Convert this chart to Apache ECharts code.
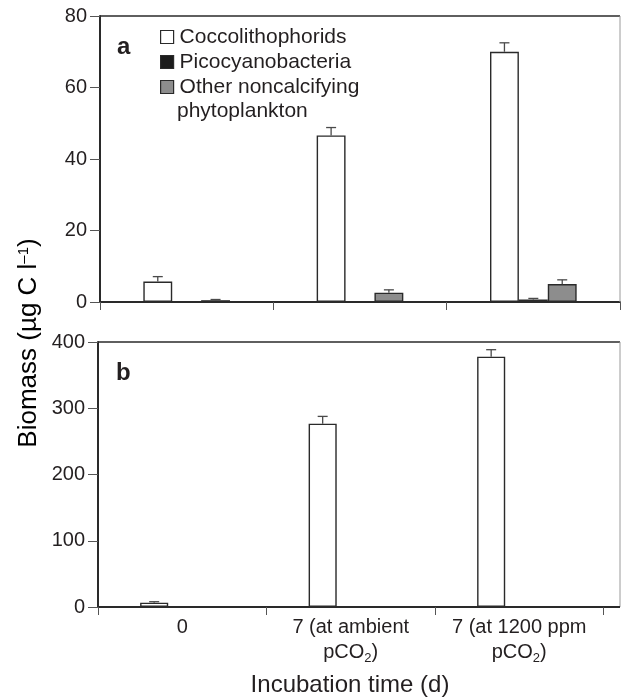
<!DOCTYPE html>
<html>
<head>
<meta charset="utf-8">
<script src="https://cdn.jsdelivr.net/npm/echarts@6/dist/echarts.min.js"></script>
<style>
html,body{margin:0;padding:0;background:#fff;}
#chart{width:621px;height:698px;}
</style>
</head>
<body>
<div id="chart"></div>
<script>
// ---- data ----
var categories = ['0', '7 (at ambient\npCO2)', '7 (at 1200 ppm\npCO2)'];
var seriesNames = ['Coccolithophorids', 'Picocyanobacteria', 'Other noncalcifying phytoplankton'];
var coccoA = [5.7, 46.6, 70.0];
var coccoAErr = [1.4, 2.2, 2.5];
var picoA = [0.1, 0.2, 0.7];
var picoAErr = [0, 0, 0.3];
var otherA = [0.5, 2.6, 5.0];
var otherAErr = [0.2, 0.8, 1.2];
var coccoB = [6.5, 276.7, 377.8];
var coccoBErr = [1.5, 11.0, 10.6];
var yTicksA = [0, 20, 40, 60, 80];
var yTicksB = [0, 100, 200, 300, 400];

// ---- layout ----
var FONT = 'Liberation Sans, Arial, Helvetica, sans-serif';
var TXT = '#231f20';
var AX = '#2a2a2a';
var GA = {left: 100, top: 16, width: 520, height: 286};
var GB = {left: 98, top: 342, width: 505.5, height: 265};
var FRAME_RIGHT = 620;
var CAT_GAP = 0.5;

var colors = ['#ffffff', '#1c1c1c', '#8d8d8d'];

function errData(vals, errs) {
  return vals.map(function (v, i) { return [i, v, errs[i]]; });
}
function errSeries(xi, yi, slot, vals, errs) {
  return {
    type: 'custom', xAxisIndex: xi, yAxisIndex: yi, silent: true, z: 5,
    data: errData(vals, errs),
    renderItem: function (params, api) {
      var e = api.value(2);
      if (!e) return null;
      var base = api.coord([api.value(0), api.value(1)]);
      var top = api.coord([api.value(0), api.value(1) + e]);
      var bw = api.size([1, 0])[0];
      var barW = bw * (1 - CAT_GAP) / 3;
      var cx = base[0] + (slot - 1) * barW;
      var st = {stroke: '#4a4a4a', lineWidth: 1.3};
      return {type: 'group', children: [
        {type: 'line', shape: {x1: cx, y1: base[1], x2: cx, y2: top[1]}, style: st},
        {type: 'line', shape: {x1: cx - 5, y1: top[1], x2: cx + 5, y2: top[1]}, style: st}
      ]};
    }
  };
}
function barSeries(name, xi, yi, data, idx) {
  return {
    name: name, type: 'bar', xAxisIndex: xi, yAxisIndex: yi, data: data,
    barGap: '0%', barCategoryGap: (CAT_GAP * 100) + '%',
    itemStyle: {color: colors[idx], borderColor: '#2a2a2a', borderWidth: 1.4},
    emphasis: {disabled: true}
  };
}
function xAxisCfg(gi, showLabels) {
  return {
    type: 'category', gridIndex: gi, data: categories,
    axisLine: {lineStyle: {color: AX, width: 2}},
    axisTick: {show: true, length: 8, lineStyle: {color: '#555', width: 1}, interval: 0},
    axisLabel: {
      show: showLabels, interval: 0, margin: 8, color: TXT, fontFamily: FONT, fontSize: 20, lineHeight: 25,
      formatter: function (v) {
        var parts = v.split('\n');
        if (parts.length === 1) return '{n|' + v + '}';
        return '{n|' + parts[0] + '}\n' + '{n|pCO}{s|2}{n|)}';
      },
      rich: {
        n: {fontSize: 20, fontFamily: FONT, color: TXT, lineHeight: 25},
        s: {fontSize: 13, fontFamily: FONT, color: TXT, lineHeight: 20, verticalAlign: 'bottom'}
      }
    },
    splitLine: {show: false}
  };
}
function yAxisCfg(gi, max, interval) {
  return {
    type: 'value', gridIndex: gi, min: 0, max: max, interval: interval,
    axisLine: {show: true, lineStyle: {color: AX, width: 2}},
    axisTick: {show: true, length: 10, lineStyle: {color: '#555', width: 1}},
    axisLabel: {margin: 13, color: TXT, fontFamily: FONT, fontSize: 20},
    splitLine: {show: false}
  };
}

var chart = echarts.init(document.getElementById('chart'), null, {renderer: 'canvas'});
var option = {
  animation: false,
  backgroundColor: '#fff',
  grid: [
    {left: GA.left, top: GA.top, width: GA.width, height: GA.height},
    {left: GB.left, top: GB.top, width: GB.width, height: GB.height}
  ],
  xAxis: [xAxisCfg(0, false), xAxisCfg(1, true)],
  yAxis: [yAxisCfg(0, 80, 20), yAxisCfg(1, 400, 100)],
  legend: {
    orient: 'vertical', left: 155, top: 21, itemWidth: 13, itemHeight: 13, itemGap: 3,
    icon: 'rect',
    data: seriesNames,
    itemStyle: {borderColor: '#2a2a2a', borderWidth: 1.2},
    textStyle: {fontFamily: FONT, fontSize: 21, color: TXT, lineHeight: 22, padding: [0, 0, 0, 1]},
    formatter: function (n) { return n === seriesNames[2] ? 'Other noncalcifying' : n; },
    selectedMode: false
  },
  series: [
    barSeries(seriesNames[0], 0, 0, coccoA, 0),
    barSeries(seriesNames[1], 0, 0, picoA, 1),
    barSeries(seriesNames[2], 0, 0, otherA, 2),
    barSeries(seriesNames[0], 1, 1, coccoB, 0),
    barSeries(seriesNames[1], 1, 1, ['-', '-', '-'], 1),
    barSeries(seriesNames[2], 1, 1, ['-', '-', '-'], 2),
    errSeries(0, 0, 0, coccoA, coccoAErr),
    errSeries(0, 0, 1, picoA, picoAErr),
    errSeries(0, 0, 2, otherA, otherAErr),
    errSeries(1, 1, 0, coccoB, coccoBErr)
  ],
  graphic: [
    {type: 'line', z: 10, shape: {x1: GA.left, y1: GA.top, x2: FRAME_RIGHT, y2: GA.top}, style: {stroke: AX, lineWidth: 1.5}},
    {type: 'line', z: 10, shape: {x1: FRAME_RIGHT, y1: GA.top, x2: FRAME_RIGHT, y2: GA.top + GA.height}, style: {stroke: '#9a9a9a', lineWidth: 1}},
    {type: 'line', z: 10, shape: {x1: GB.left, y1: GB.top, x2: FRAME_RIGHT, y2: GB.top}, style: {stroke: AX, lineWidth: 1.5}},
    {type: 'line', z: 10, shape: {x1: FRAME_RIGHT, y1: GB.top, x2: FRAME_RIGHT, y2: GB.top + GB.height}, style: {stroke: '#9a9a9a', lineWidth: 1}},
    {type: 'line', z: 10, shape: {x1: GB.left + GB.width, y1: GB.top + GB.height, x2: FRAME_RIGHT, y2: GB.top + GB.height}, style: {stroke: AX, lineWidth: 2}},
    {type: 'text', x: 177, y: 111, style: {text: 'phytoplankton', font: '21px ' + FONT, fill: TXT, verticalAlign: 'middle'}},
    {type: 'text', x: 117, y: 47, style: {text: 'a', font: 'bold 24px ' + FONT, fill: TXT, verticalAlign: 'middle'}},
    {type: 'text', x: 116, y: 373, style: {text: 'b', font: 'bold 24px ' + FONT, fill: TXT, verticalAlign: 'middle'}},
    {type: 'text', x: 350, y: 685, style: {text: 'Incubation time (d)', font: '24px ' + FONT, fill: TXT, align: 'center', verticalAlign: 'middle'}},
    {type: 'text', x: 16, y: 343, rotation: Math.PI / 2, style: {
      text: '{n|Biomass (µg C l}{s|–1}{n|)}', align: 'center', verticalAlign: 'top',
      rich: {n: {fontSize: 26, fontFamily: FONT, color: TXT}, s: {fontSize: 15, fontFamily: FONT, color: TXT, verticalAlign: 'top', padding: [0, 0, 11, 0]}}
    }}
  ]
};
chart.setOption(option);
</script>
</body>
</html>
